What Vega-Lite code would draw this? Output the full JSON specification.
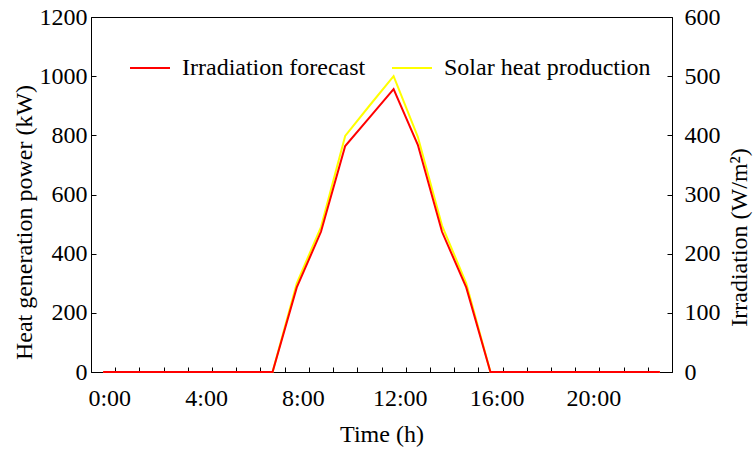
{
  "$schema": "https://vega.github.io/schema/vega-lite/v6.json",
  "width": 581,
  "height": 355,
  "autosize": "none",
  "padding": {"left": 91, "top": 17, "right": 84, "bottom": 78},
  "config": {
    "font": "Liberation Serif",
    "view": {"stroke": "black", "strokeWidth": 1},
    "axis": {
      "grid": false,
      "domainColor": "black",
      "domainWidth": 1,
      "tickColor": "black",
      "tickWidth": 1,
      "labelColor": "black",
      "titleColor": "black",
      "labelFont": "Liberation Serif",
      "titleFont": "Liberation Serif",
      "labelFontSize": 24,
      "titleFontSize": 24,
      "titleFontWeight": "normal"
    },
    "legend": {
      "orient": "none",
      "legendX": 38,
      "legendY": 30,
      "direction": "horizontal",
      "symbolType": "stroke",
      "symbolSize": 1600,
      "symbolStrokeWidth": 2,
      "labelFont": "Liberation Serif",
      "labelFontSize": 24,
      "labelColor": "black",
      "labelOffset": 11,
      "labelLimit": 400,
      "columnPadding": 22
    }
  },
  "data": {
    "values": [
      {"hour": 0, "series": "Irradiation forecast", "value": 0},
      {"hour": 1, "series": "Irradiation forecast", "value": 0},
      {"hour": 2, "series": "Irradiation forecast", "value": 0},
      {"hour": 3, "series": "Irradiation forecast", "value": 0},
      {"hour": 4, "series": "Irradiation forecast", "value": 0},
      {"hour": 5, "series": "Irradiation forecast", "value": 0},
      {"hour": 6, "series": "Irradiation forecast", "value": 0},
      {"hour": 7, "series": "Irradiation forecast", "value": 0},
      {"hour": 8, "series": "Irradiation forecast", "value": 143},
      {"hour": 9, "series": "Irradiation forecast", "value": 237},
      {"hour": 10, "series": "Irradiation forecast", "value": 382},
      {"hour": 11, "series": "Irradiation forecast", "value": 430},
      {"hour": 12, "series": "Irradiation forecast", "value": 478},
      {"hour": 13, "series": "Irradiation forecast", "value": 384},
      {"hour": 14, "series": "Irradiation forecast", "value": 237},
      {"hour": 15, "series": "Irradiation forecast", "value": 143},
      {"hour": 16, "series": "Irradiation forecast", "value": 0},
      {"hour": 17, "series": "Irradiation forecast", "value": 0},
      {"hour": 18, "series": "Irradiation forecast", "value": 0},
      {"hour": 19, "series": "Irradiation forecast", "value": 0},
      {"hour": 20, "series": "Irradiation forecast", "value": 0},
      {"hour": 21, "series": "Irradiation forecast", "value": 0},
      {"hour": 22, "series": "Irradiation forecast", "value": 0},
      {"hour": 23, "series": "Irradiation forecast", "value": 0},
      {"hour": 0, "series": "Solar heat production", "value": 0},
      {"hour": 1, "series": "Solar heat production", "value": 0},
      {"hour": 2, "series": "Solar heat production", "value": 0},
      {"hour": 3, "series": "Solar heat production", "value": 0},
      {"hour": 4, "series": "Solar heat production", "value": 0},
      {"hour": 5, "series": "Solar heat production", "value": 0},
      {"hour": 6, "series": "Solar heat production", "value": 0},
      {"hour": 7, "series": "Solar heat production", "value": 0},
      {"hour": 8, "series": "Solar heat production", "value": 300},
      {"hour": 9, "series": "Solar heat production", "value": 490},
      {"hour": 10, "series": "Solar heat production", "value": 798},
      {"hour": 11, "series": "Solar heat production", "value": 900},
      {"hour": 12, "series": "Solar heat production", "value": 1000},
      {"hour": 13, "series": "Solar heat production", "value": 795},
      {"hour": 14, "series": "Solar heat production", "value": 495},
      {"hour": 15, "series": "Solar heat production", "value": 300},
      {"hour": 16, "series": "Solar heat production", "value": 0},
      {"hour": 17, "series": "Solar heat production", "value": 0},
      {"hour": 18, "series": "Solar heat production", "value": 0},
      {"hour": 19, "series": "Solar heat production", "value": 0},
      {"hour": 20, "series": "Solar heat production", "value": 0},
      {"hour": 21, "series": "Solar heat production", "value": 0},
      {"hour": 22, "series": "Solar heat production", "value": 0},
      {"hour": 23, "series": "Solar heat production", "value": 0}
    ]
  },
  "encoding": {
    "x": {
      "field": "hour",
      "type": "quantitative",
      "scale": {"domain": [-0.5, 23.5], "nice": false, "zero": false},
      "axis": {
        "title": "Time (h)",
        "values": [0.5, 1.5, 2.5, 3.5, 4.5, 5.5, 6.5, 7.5, 8.5, 9.5, 10.5, 11.5, 12.5, 13.5, 14.5, 15.5, 16.5, 17.5, 18.5, 19.5, 20.5, 21.5, 22.5],
        "labelExpr": "(datum.value - 0.5) % 4 == 0 ? format(datum.value - 0.5, 'd') + ':00' : ''",
        "labelFont": "Liberation Serif",
        "labelOffset": -6,
        "labelOverlap": false,
        "labelFlush": false,
        "labelBound": false,
        "tickSize": -5,
        "labelPadding": 19,
        "titlePadding": 12
      }
    },
    "color": {
      "field": "series",
      "type": "nominal",
      "scale": {
        "domain": ["Irradiation forecast", "Solar heat production"],
        "range": ["#ff0000", "#ffff00"]
      },
      "legend": {"title": null}
    }
  },
  "layer": [
    {
      "transform": [{"filter": "datum.series === 'Solar heat production'"}],
      "mark": {"type": "line", "strokeWidth": 2},
      "encoding": {
        "y": {
          "field": "value",
          "type": "quantitative",
          "scale": {"domain": [0, 1200], "nice": false},
          "axis": {
            "title": "Heat generation power (kW)",
            "orient": "left",
            "format": "d",
            "labelFont": "Liberation Serif",
            "values": [0, 200, 400, 600, 800, 1000, 1200],
            "tickSize": -5,
            "labelPadding": 9,
            "titlePadding": 3,
            "titleY": 205
          }
        }
      }
    },
    {
      "transform": [{"filter": "datum.series === 'Irradiation forecast'"}],
      "mark": {"type": "line", "strokeWidth": 2},
      "encoding": {
        "y": {
          "field": "value",
          "type": "quantitative",
          "scale": {"domain": [0, 600], "nice": false},
          "axis": {
            "title": "Irradiation (W/m²)",
            "orient": "right",
            "format": "d",
            "labelFont": "Liberation Serif",
            "values": [0, 100, 200, 300, 400, 500, 600],
            "tickSize": -5,
            "labelPadding": 17,
            "titleAngle": 270,
            "titleBaseline": "top",
            "titlePadding": 7,
            "titleY": 220
          }
        }
      }
    }
  ],
  "resolve": {"scale": {"y": "independent"}}
}
